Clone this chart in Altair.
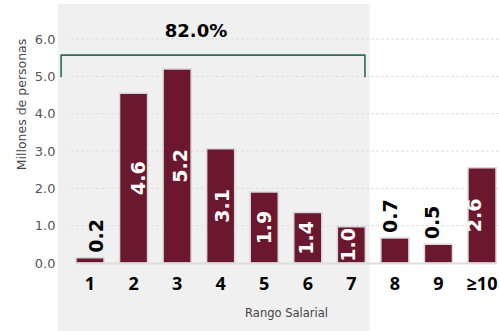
import altair as alt
import pandas as pd

categories = ["1", "2", "3", "4", "5", "6", "7", "8", "9", "≥10"]
values = [0.14, 4.55, 5.2, 3.06, 1.9, 1.35, 0.97, 0.67, 0.5, 2.55]
labels = ["0.2", "4.6", "5.2", "3.1", "1.9", "1.4", "1.0", "0.7", "0.5", "2.6"]
grid_values = [1, 2, 3, 4, 5, 6]
highlight_text = "82.0%"

FONT = "DejaVu Sans"
BAR = "#6b172e"
GREEN = "#2f6b58"

df = pd.DataFrame({"cat": categories, "value": values, "label": labels})
df["inside"] = df["value"] >= 0.9
df["mid"] = df["value"] / 2

W, H = 431, 259
ydom = [0, 6.94]
band_scale = alt.Scale(domain=categories, range=[8, 428], paddingInner=0.357, paddingOuter=0)
hid_scale = alt.Scale(domain=[0, 10], range=[0, W])
yscale = alt.Scale(domain=ydom, nice=False, zero=True)

yaxis = alt.Axis(
    values=[0, 1, 2, 3, 4, 5, 6],
    format=".1f",
    grid=False,
    ticks=False,
    domain=False,
    labelFont=FONT,
    labelFontSize=13,
    labelColor="#555555",
    labelPadding=13,
    title="Millones de personas",
    titleFont=FONT,
    titleFontSize=12.5,
    titleFontWeight="normal",
    titleColor="#444444",
    titleX=-47,
    titleY=100,
    titleAngle=270,
    titleAlign="center",
    titleBaseline="middle",
    zindex=1,
)

xaxis = alt.Axis(
    title="Rango Salarial",
    labelAngle=0,
    labelFont="Open Sans",
    labelFontSize=18,
    labelFontWeight="bold",
    labelColor="black",
    labelPadding=12,
    ticks=False,
    domainColor="#dddddd",
    domainWidth=2,
    titleFont=FONT,
    titleFontSize=11.5,
    titleFontWeight="normal",
    titleColor="#444444",
    titleY=50,
    titleBaseline="middle",
    zindex=1,
)

panel_df = pd.DataFrame({"x0": [-0.23], "x1": [7.0]})
panel = alt.Chart(panel_df).mark_rect(color="#f0f0f0").encode(
    x=alt.X("x0:Q", scale=hid_scale, axis=None),
    x2="x1:Q",
    y=alt.value(0),
    y2=alt.value(H + 68),
)

bracket_df = pd.DataFrame({"bx": [-0.16, -0.16, 6.89, 6.89], "by": [4.98, 5.57, 5.57, 4.98], "o": [0, 1, 2, 3]})
bracket = alt.Chart(bracket_df).mark_line(color=GREEN, strokeWidth=1.6, strokeJoin="round").encode(
    x=alt.X("bx:Q", scale=hid_scale, axis=None),
    y=alt.Y("by:Q", scale=yscale, axis=yaxis),
    order="o:Q",
)

title_df = pd.DataFrame({"tx": [2.97], "ty": [6.2], "t": [highlight_text]})
title = alt.Chart(title_df).mark_text(font=FONT, fontSize=18, fontWeight="bold", color="black").encode(
    x=alt.X("tx:Q", scale=hid_scale, axis=None),
    y=alt.Y("ty:Q", scale=yscale, axis=yaxis),
    text="t:N",
)

grid = alt.Chart(pd.DataFrame({"g": grid_values})).mark_rule(
    color="#dedede", strokeWidth=1, strokeDash=[3, 2]
).encode(y=alt.Y("g:Q", scale=yscale, axis=yaxis))

bars = alt.Chart(df).mark_bar(color=BAR, stroke="#d8d8d8", strokeWidth=1.5).encode(
    x=alt.X("cat:N", scale=band_scale, sort=categories, axis=xaxis),
    y=alt.Y("value:Q", scale=yscale, axis=yaxis),
)

lab_in = alt.Chart(df).transform_filter("datum.inside").mark_text(
    font=FONT, fontSize=19, fontWeight="bold", color="white", angle=270, align="center", baseline="middle"
).encode(
    x=alt.X("cat:N", scale=band_scale, sort=categories, axis=None),
    y=alt.Y("mid:Q", scale=yscale, axis=yaxis),
    text="label:N",
)

lab_out = alt.Chart(df).transform_filter("!datum.inside").mark_text(
    font=FONT, fontSize=19, fontWeight="bold", color="black", angle=270, align="left", baseline="middle", dx=5
).encode(
    x=alt.X("cat:N", scale=band_scale, sort=categories, axis=None),
    y=alt.Y("value:Q", scale=yscale, axis=yaxis),
    text="label:N",
)

chart = alt.layer(panel, bracket, title, grid, bars, lab_in, lab_out).resolve_scale(
    x="independent"
).properties(
    width=W,
    height=H,
    autosize=alt.AutoSizeParams(type="none"),
    padding={"left": 68, "top": 4, "right": 0, "bottom": 68},
).configure_view(stroke=None)

chart.save("out.html", embed_options={"renderer": "svg", "actions": False})
